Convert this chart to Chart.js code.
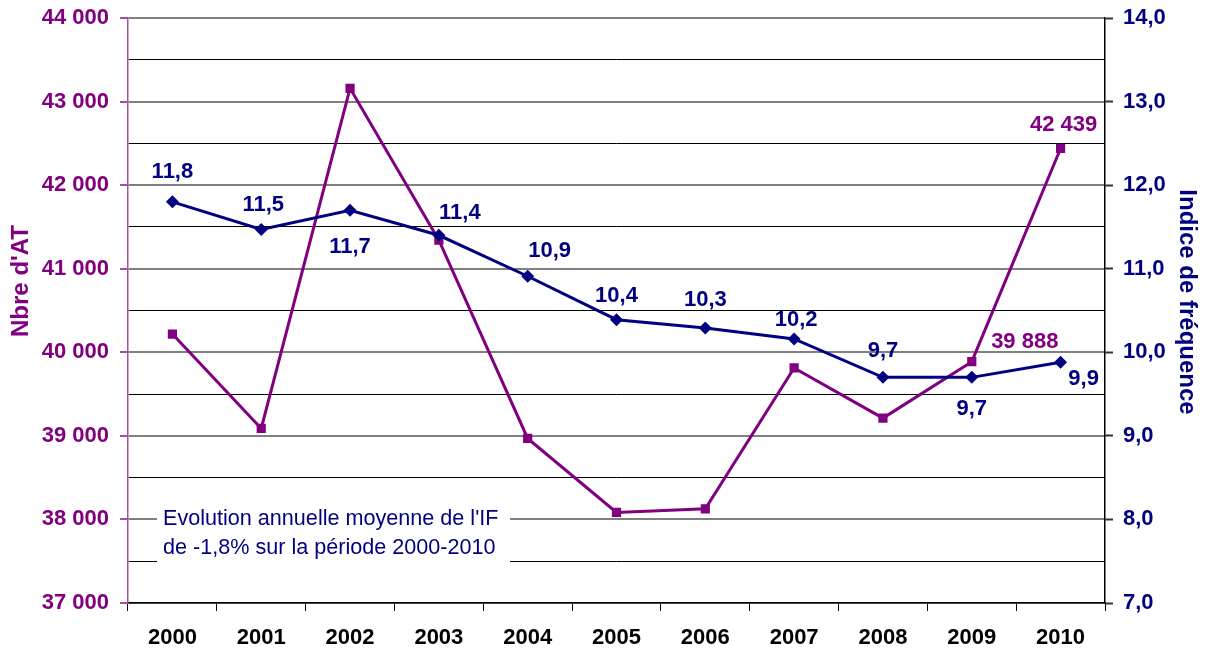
<!DOCTYPE html>
<html>
<head>
<meta charset="utf-8">
<script src="https://cdn.jsdelivr.net/npm/chart.js@4.4.1/dist/chart.umd.min.js"></script>
<style>
  html, body { margin: 0; padding: 0; background: #ffffff; }
  #wrap { width: 1207px; height: 653px; position: relative; }
</style>
</head>
<body>
<div id="wrap"><canvas id="c" width="1207" height="653"></canvas></div>
<script>
const years = ['2000','2001','2002','2003','2004','2005','2006','2007','2008','2009','2010'];
const nbreAT = [40218, 39089, 43158, 41341, 38969, 38084, 38127, 39813, 39212, 39888, 42439];
const indiceFreq = [11.8, 11.47, 11.7, 11.4, 10.91, 10.39, 10.29, 10.16, 9.7, 9.7, 9.88];
const ifLabels = ['11,8','11,5','11,7','11,4','10,9','10,4','10,3','10,2','9,7','9,7','9,9'];
const atLabelIndexes = [9, 10];
const leftAxis = { min: 37000, max: 44000, step: 500, major: 1000 };
const rightAxis = { min: 7, max: 14, step: 0.5, major: 1 };
const leftTitle = "Nbre d'AT";
const rightTitle = 'Indice de fréquence';
const noteLines = ["Evolution annuelle moyenne de l'IF", 'de -1,8% sur la période 2000-2010'];

const PURPLE = '#800080';
const NAVY = '#000080';
const FONT = "'Liberation Sans', Arial, sans-serif";

function fmtThousands(v) {
  return String(Math.round(v)).replace(/\B(?=(\d{3})+(?!\d))/g, ' ');
}

// label placement (offsets from point) – presentation only
const ifOffsets = [[0,-30],[2,-24],[0,37],[21,-22],[22,-25],[0,-24],[0,-28],[2,-19],[0,-26],[0,32],[23,17]];
const atOffsets = { 9: [53,-20], 10: [3,-24] };

const overlay = {
  id: 'overlay',
  beforeDatasetsDraw(chart) {
    const ctx = chart.ctx;
    ctx.save();
    ctx.fillStyle = '#ffffff';
    ctx.fillRect(157, 506, 353, 60);
    ctx.fillStyle = NAVY;
    ctx.font = '21.6px ' + FONT;
    ctx.textAlign = 'left';
    ctx.textBaseline = 'middle';
    ctx.fillText(noteLines[0], 163, 519);
    ctx.fillText(noteLines[1], 163, 548);
    ctx.restore();
  },
  afterDatasetsDraw(chart) {
    const ctx = chart.ctx;
    ctx.save();
    ctx.font = 'bold 22px ' + FONT;
    ctx.textAlign = 'center';
    ctx.textBaseline = 'middle';
    const metaIF = chart.getDatasetMeta(0);
    ctx.fillStyle = NAVY;
    metaIF.data.forEach((pt, i) => {
      const o = ifOffsets[i];
      ctx.fillText(ifLabels[i], pt.x + o[0], pt.y + o[1]);
    });
    const metaAT = chart.getDatasetMeta(1);
    ctx.fillStyle = PURPLE;
    atLabelIndexes.forEach(i => {
      const pt = metaAT.data[i];
      const o = atOffsets[i];
      ctx.fillText(fmtThousands(nbreAT[i]), pt.x + o[0], pt.y + o[1]);
    });
    // axis titles
    ctx.font = 'bold 24px ' + FONT;
    ctx.fillStyle = PURPLE;
    ctx.save();
    ctx.translate(21, 281);
    ctx.rotate(-Math.PI / 2);
    ctx.fillText(leftTitle, 0, 0);
    ctx.restore();
    ctx.fillStyle = NAVY;
    ctx.save();
    ctx.translate(1187, 302);
    ctx.rotate(Math.PI / 2);
    ctx.fillText(rightTitle, 0, 0);
    ctx.restore();
    ctx.restore();
  }
};

const isMajor = (v, m) => Math.abs(v / m - Math.round(v / m)) < 1e-6;

new Chart(document.getElementById('c'), {
  type: 'line',
  data: {
    labels: years,
    datasets: [
      {
        label: rightTitle,
        data: indiceFreq,
        yAxisID: 'y2',
        borderColor: NAVY,
        backgroundColor: NAVY,
        borderWidth: 3,
        pointStyle: 'rectRot',
        pointRadius: 6.5,
        pointHoverRadius: 6.5,
        pointBorderWidth: 0,
        tension: 0,
        order: 0
      },
      {
        label: leftTitle,
        data: nbreAT,
        yAxisID: 'y',
        borderColor: PURPLE,
        backgroundColor: PURPLE,
        borderWidth: 3,
        pointStyle: 'rect',
        pointRadius: 6.5,
        pointHoverRadius: 6.5,
        pointBorderWidth: 0,
        tension: 0,
        order: 1
      }
    ]
  },
  options: {
    responsive: false,
    animation: false,
    events: [],
    layout: { padding: { top: 18, left: 0, right: 0, bottom: 0 } },
    plugins: { legend: { display: false }, tooltip: { enabled: false } },
    scales: {
      x: {
        type: 'category',
        offset: true,
        grid: { offset: true, drawOnChartArea: false, color: '#000000', tickLength: 8, lineWidth: 1 },
        border: { color: '#000000', width: 1.5 },
        ticks: { color: '#000000', font: { family: FONT, size: 22, weight: 'bold' }, padding: 14, maxRotation: 0, autoSkip: false },
        afterFit(s) { s.height = 50; s.paddingLeft = 0; s.paddingRight = 0; }
      },
      y: {
        position: 'left',
        min: leftAxis.min, max: leftAxis.max,
        afterBuildTicks(s) {
          const t = [];
          for (let v = leftAxis.min; v <= leftAxis.max + 1e-6; v += leftAxis.step) t.push({ value: v });
          s.ticks = t;
        },
        grid: {
          drawOnChartArea: true,
          tickLength: 8,
          color: c => isMajor(c.tick.value, leftAxis.major) ? '#808080' : '#000000',
          lineWidth: c => isMajor(c.tick.value, leftAxis.major) ? 2 : 1,
          tickColor: c => isMajor(c.tick.value, leftAxis.major) ? '#a050a0' : 'rgba(0,0,0,0)',
          tickWidth: 2
        },
        border: { color: '#a050a0', width: 1.5 },
        ticks: {
          color: PURPLE,
          font: { family: FONT, size: 22, weight: 'bold' },
          padding: 11,
          autoSkip: false,
          callback: v => isMajor(v, leftAxis.major) ? fmtThousands(v) : ''
        },
        afterFit(s) { s.width = 128; s.paddingTop = 0; s.paddingBottom = 0; }
      },
      y2: {
        position: 'right',
        min: rightAxis.min, max: rightAxis.max,
        afterBuildTicks(s) {
          const t = [];
          for (let v = rightAxis.min; v <= rightAxis.max + 1e-6; v += rightAxis.step) t.push({ value: Math.round(v * 10) / 10 });
          s.ticks = t;
        },
        grid: {
          drawOnChartArea: false,
          tickLength: 8,
          tickColor: c => isMajor(c.tick.value, rightAxis.major) ? '#333333' : 'rgba(0,0,0,0)',
          tickWidth: 2
        },
        border: { color: '#000000', width: 1.5 },
        ticks: {
          color: NAVY,
          font: { family: FONT, size: 22, weight: 'bold' },
          padding: 10,
          autoSkip: false,
          callback: v => isMajor(v, rightAxis.major) ? v.toFixed(1).replace('.', ',') : ''
        },
        afterFit(s) { s.width = 102; s.paddingTop = 0; s.paddingBottom = 0; }
      }
    }
  },
  plugins: [overlay]
});
</script>
</body>
</html>
